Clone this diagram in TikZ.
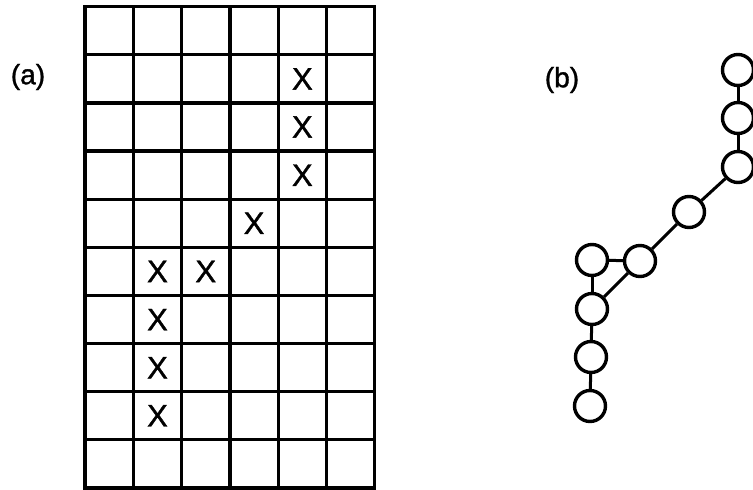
\documentclass[tikz,border=0pt]{standalone}
\usepackage{fontspec}
\setmainfont{Liberation Sans}
\newfontfamily\heavysans[FakeBold=1.2]{Liberation Sans}
\begin{document}
\begin{tikzpicture}[x=1pt,y=-1pt,
  gridline/.style={line width=3.2pt},
  ring/.style={circle,draw,line width=3.4pt,minimum size=31pt,inner sep=0pt},
  link/.style={line width=3pt},
  xmark/.style={font=\heavysans\fontsize{31}{31}\selectfont,inner sep=0pt},
  lab/.style={font=\heavysans\fontsize{28}{28}\selectfont,inner sep=0pt}]
\useasboundingbox (0,0) rectangle (753,490);
% grid (a)
\draw[gridline] (85,6.7) rectangle (374.8,488);
\foreach \i in {1,...,5} \draw[gridline] ({85+48.3*\i},6.7) -- ({85+48.3*\i},488);
\foreach \j in {1,...,9} \draw[gridline] (85,{6.7+48.13*\j}) -- (374.8,{6.7+48.13*\j});
% X marks
\node[xmark] (x1) at (302.35,78.9) {X};
\node[xmark] (x2) at (302.35,127.0) {X};
\node[xmark] (x3) at (302.35,175.2) {X};
\node[xmark] (x4) at (254.05,223.3) {X};
\node[xmark] (x5) at (157.45,271.4) {X};
\node[xmark] (x6) at (205.75,271.4) {X};
\node[xmark] (x7) at (157.45,319.6) {X};
\node[xmark] (x8) at (157.45,367.7) {X};
\node[xmark] (x9) at (157.45,415.8) {X};
% labels
\node[lab] (la) at (28,77) {(a)};
\node[lab] (lb) at (562,80) {(b)};
% graph (b)
\node[ring] (c1) at (738,70) {};
\node[ring] (c2) at (738,118) {};
\node[ring] (c3) at (738,167) {};
\node[ring] (c4) at (689,212) {};
\node[ring] (c5) at (640,261) {};
\node[ring] (c6) at (592,260) {};
\node[ring] (c7) at (592,309) {};
\node[ring] (c8) at (591,357) {};
\node[ring] (c9) at (590,406) {};
\draw[link] (c1) -- (c2);
\draw[link] (c2) -- (c3);
\draw[link] (c3) -- (c4);
\draw[link] (c4) -- (c5);
\draw[link] (c5) -- (c6);
\draw[link] (c6) -- (c7);
\draw[link] (c5) -- (c7);
\draw[link] (c7) -- (c8);
\draw[link] (c8) -- (c9);
\end{tikzpicture}
\end{document}
